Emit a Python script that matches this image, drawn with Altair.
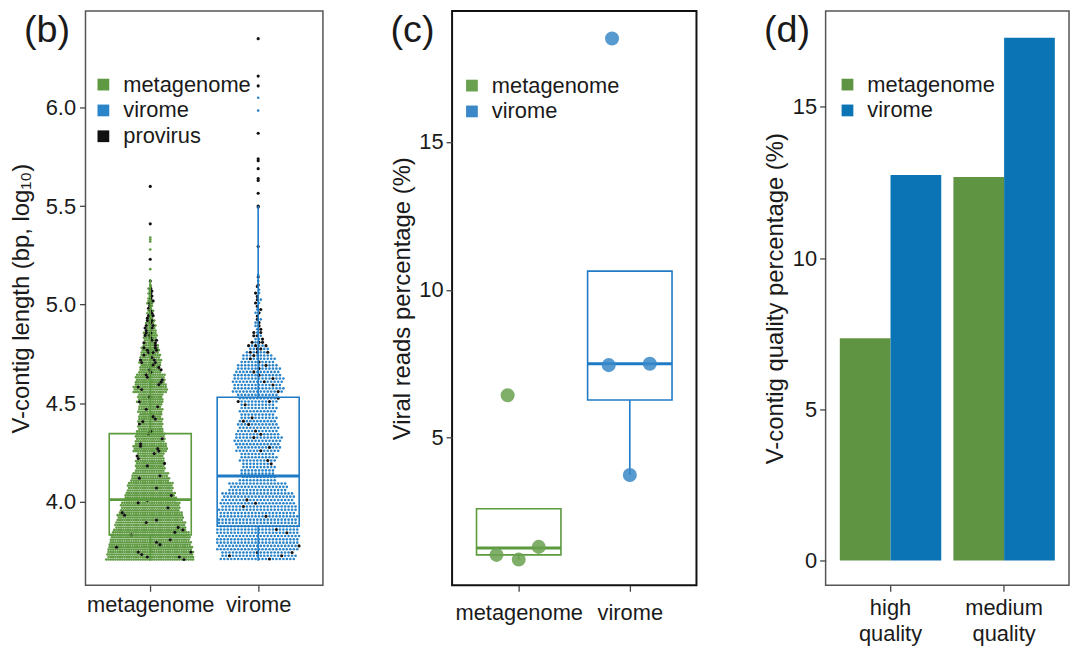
import altair as alt
import pandas as pd

# ---------------- data ----------------
GROUPS = ["metagenome", "virome"]
TYPES = ["metagenome", "virome", "provirus"]

# Panel (b): log10 V-contig length, counts per 0.05-wide bin
B_BIN_LO = [3.70, 3.75, 3.80, 3.85, 3.90, 3.95, 4.00, 4.05, 4.10, 4.15, 4.20, 4.25, 4.30, 4.35,
            4.40, 4.45, 4.50, 4.55, 4.60, 4.65, 4.70, 4.75, 4.80, 4.85, 4.90, 4.95, 5.00, 5.05]
B_META_COUNT = [153, 146, 139, 125, 115, 104, 90, 80, 66, 52, 49, 59, 52, 45,
                42, 42, 45, 59, 52, 38, 38, 31, 24, 21, 14, 10, 10, 7]
B_META_PROV = [6, 3, 3, 3, 3, 2, 2, 1, 2, 2, 3, 4, 2, 2,
               3, 2, 2, 3, 4, 5, 6, 7, 7, 7, 6, 4, 4, 3]
B_VIR_COUNT = [65, 72, 72, 70, 68, 67, 63, 51, 31, 29, 32, 39, 41, 36,
               32, 32, 36, 44, 44, 38, 29, 19, 10, 7, 5, 5, 5, 4]
B_VIR_PROV = [5, 1, 1, 1, 1, 2, 1, 0, 0, 1, 1, 2, 2, 2,
              2, 1, 3, 2, 3, 3, 3, 8, 6, 4, 3, 3, 3, 2]
# isolated long contigs
B_META_HIGH = [5.10, 5.12, 5.18, 5.23, 5.28, 5.32, 5.33, 5.34, 5.41, 5.60]
B_META_HIGH_TYPE = ["metagenome", "provirus", "metagenome", "provirus", "metagenome",
                    "metagenome", "metagenome", "metagenome", "provirus", "provirus"]
B_VIR_HIGH = [5.10, 5.12, 5.14, 5.15, 5.295, 5.495, 5.50, 5.565, 5.63, 5.64,
              5.69, 5.73, 5.74, 5.87, 5.985, 6.05, 6.11, 6.16, 6.35]
B_VIR_HIGH_TYPE = ["provirus", "virome", "provirus", "virome", "provirus", "provirus",
                   "provirus", "provirus", "provirus", "provirus", "provirus", "provirus",
                   "provirus", "provirus", "virome", "virome", "provirus", "provirus", "provirus"]
# box statistics (b)
B_Q1 = [3.83, 3.875]
B_MED = [4.01, 4.13]
B_Q3 = [4.345, 4.53]
B_LO = [3.70, 3.70]
B_HI = [5.13, 5.50]

# Panel (c): viral reads percentage per sample
C_META = [6.43, 1.03, 0.87, 1.30]
C_META_JIT = [-0.10, -0.20, 0.0, 0.18]
C_VIR = [18.5, 7.45, 7.50, 3.73]
C_VIR_JIT = [-0.16, -0.19, 0.18, 0.0]
C_Q1 = [1.03, 6.27]
C_MED = [1.26, 7.50]
C_Q3 = [2.59, 10.63]
C_LO = [0.87, 3.73]

# Panel (d): V-contig quality percentage
D_QUALITY = ["high quality", "medium quality"]
D_META = [7.35, 12.68]
D_VIR = [12.75, 17.29]

# ---------------- styling / layout ----------------
FONT = "Liberation Sans"
GREEN_PT, BLUE_PT, BLACK = "#5f9a42", "#2a84c9", "#111111"
BOX_COLORS = ["#5c9a3e", "#1f7bc6"]
GREEN_C, BLUE_C = "#6aa150", "#3a88c8"
GREEN_D, BLUE_D = "#5f9443", "#0a74b5"
TXT = "#1a1a1a"

W_B, W_C, W_D, H = 239, 246, 245, 578
XDOM = [0.4, 2.6]
UNIT_PX_B = W_B / (XDOM[1] - XDOM[0])
BOX_HALF = 0.38
LBL = "['metagenome','virome'][datum.value - 1]"


def swarm(center, bins, counts, prov, rows, dx, bin_h, base):
    out = []
    for b, (lo, n, k) in enumerate(zip(bins, counts, prov)):
        slots = []
        for r in range(rows):
            m = n // rows + (1 if r < n % rows else 0)
            y = lo + (r + 0.5) * bin_h / rows
            stag = (0.25 if r % 2 else -0.25) * dx
            for c in range(m):
                slots.append((center + (c - (m - 1) / 2) * dx + stag, y))
        black = set()
        for j in range(k):
            black.add(int(((j * 0.6180339887 + 0.37 + 0.291 * b) % 1.0) * len(slots)))
        for i, (x, y) in enumerate(slots):
            out.append({"x": x, "y": y, "type": "provirus" if i in black else base})
    return out


rows_b = swarm(1, B_BIN_LO, B_META_COUNT, B_META_PROV, 4, 2.3 / UNIT_PX_B, 0.05, "metagenome")
rows_b += swarm(2, B_BIN_LO, B_VIR_COUNT, B_VIR_PROV, 3, 3.5 / UNIT_PX_B, 0.05, "virome")
for v, t in zip(B_META_HIGH, B_META_HIGH_TYPE):
    rows_b.append({"x": 1, "y": v, "type": t})
for v, t in zip(B_VIR_HIGH, B_VIR_HIGH_TYPE):
    rows_b.append({"x": 2, "y": v, "type": t})
df_b = pd.DataFrame(rows_b)
df_b_col = df_b[df_b["type"] != "provirus"]
df_b_blk = df_b[df_b["type"] == "provirus"]


def box_frame(q1, med, q3, lo, hi):
    d = pd.DataFrame({"boxgroup": GROUPS, "pos": [1, 2], "q1": q1, "med": med,
                      "q3": q3, "lo": lo, "hi": hi})
    d["xl"] = d["pos"] - BOX_HALF
    d["xr"] = d["pos"] + BOX_HALF
    return d


box_b = box_frame(B_Q1, B_MED, B_Q3, B_LO, B_HI)
box_c = box_frame(C_Q1, C_MED, C_Q3, C_LO, C_Q3)


def legend(x, y):
    return alt.Legend(title=None, orient="none", legendX=x, legendY=y, symbolType="square",
                      symbolSize=140, labelFontSize=22, rowPadding=4, labelOffset=9,
                      padding=0, symbolStrokeWidth=0, symbolOpacity=1)


def box_layers(df, xs, ys, axx, axy):
    X = lambda f: alt.X(f, scale=xs, axis=axx)
    Y = lambda f: alt.Y(f, scale=ys, axis=axy)
    layers = []
    for i, col in enumerate(BOX_COLORS):
        base = alt.Chart(df.iloc[[i]])
        s = alt.value(col)
        layers += [
            base.mark_rect(fillOpacity=0, strokeWidth=1.6).encode(
                x=X("xl:Q"), x2="xr:Q", y=Y("q1:Q"), y2="q3:Q", stroke=s),
            base.mark_rule(strokeWidth=3).encode(
                x=X("xl:Q"), x2="xr:Q", y=Y("med:Q"), stroke=s),
            base.mark_rule(strokeWidth=1.6).encode(
                x=X("pos:Q"), y=Y("lo:Q"), y2="q1:Q", stroke=s),
            base.mark_rule(strokeWidth=1.6).encode(
                x=X("pos:Q"), y=Y("q3:Q"), y2="hi:Q", stroke=s),
        ]
    return layers


def panel_label(t):
    return alt.Chart(pd.DataFrame({"t": [t]})).mark_text(
        fontSize=38, align="left", baseline="middle", font=FONT, color=TXT
    ).encode(text="t:N", x=alt.value(-62), y=alt.value(20))


# ---------------- panel (b) ----------------
xs_b = alt.Scale(domain=XDOM, nice=False, zero=False)
ys_b = alt.Scale(domain=[3.575, 6.49], nice=False, zero=False)
axx_b = alt.Axis(values=[1, 2], labelExpr=LBL, title=None, labelPadding=3)
axy_b = alt.Axis(values=[4.0, 4.5, 5.0, 5.5, 6.0], format=".1f",
                 title="V-contig length  (bp, log₁₀)", titlePadding=12, labelPadding=4)
color_b = alt.Color("type:N", scale=alt.Scale(domain=TYPES, range=[GREEN_PT, BLUE_PT, BLACK]),
                    legend=legend(7, 63))

pts_col = alt.Chart(df_b_col).mark_circle(size=7, opacity=1).encode(
    x=alt.X("x:Q", scale=xs_b, axis=axx_b), y=alt.Y("y:Q", scale=ys_b, axis=axy_b), color=color_b)
pts_blk = alt.Chart(df_b_blk).mark_circle(size=10, opacity=1).encode(
    x=alt.X("x:Q", scale=xs_b, axis=axx_b), y=alt.Y("y:Q", scale=ys_b, axis=axy_b), color=color_b)

panel_b = alt.layer(pts_col, pts_blk, *box_layers(box_b, xs_b, ys_b, axx_b, axy_b),
                    panel_label("(b)")).properties(
    width=W_B, height=H, view=alt.ViewBackground(stroke="#555555", strokeWidth=1.5))

# ---------------- panel (c) ----------------
df_c = pd.DataFrame({
    "group": ["metagenome"] * len(C_META) + ["virome"] * len(C_VIR),
    "pos": [1] * len(C_META) + [2] * len(C_VIR),
    "jit": C_META_JIT + C_VIR_JIT,
    "value": C_META + C_VIR,
})
df_c["x"] = df_c["pos"] + df_c["jit"]
xs_c = alt.Scale(domain=XDOM, nice=False, zero=False)
ys_c = alt.Scale(domain=[0, 19.43], nice=False, zero=False)
axx_c = alt.Axis(values=[1, 2], labelExpr=LBL, title=None, labelPadding=11)
axy_c = alt.Axis(values=[5, 10, 15], title="Viral reads percentage (%)", titlePadding=4,
                 labelPadding=3)
pts_c = alt.Chart(df_c).mark_circle(size=200, opacity=0.85).encode(
    x=alt.X("x:Q", scale=xs_c, axis=axx_c),
    y=alt.Y("value:Q", scale=ys_c, axis=axy_c),
    color=alt.Color("group:N", scale=alt.Scale(domain=GROUPS, range=[GREEN_C, BLUE_C]),
                    legend=legend(9, 64)),
)
panel_c = alt.layer(*box_layers(box_c, xs_c, ys_c, axx_c, axy_c), pts_c,
                    panel_label("(c)")).properties(
    width=W_C, height=H, view=alt.ViewBackground(stroke="#111111", strokeWidth=2))

# ---------------- panel (d) ----------------
df_d = pd.DataFrame({
    "quality": D_QUALITY * 2,
    "group": ["metagenome"] * 2 + ["virome"] * 2,
    "value": D_META + D_VIR,
})
bars = alt.Chart(df_d).mark_bar().encode(
    x=alt.X("quality:N", sort=D_QUALITY,
            scale=alt.Scale(paddingInner=0.107, paddingOuter=0.125),
            axis=alt.Axis(labelExpr="split(datum.label, ' ')", labelAngle=0, title=None,
                          labelPadding=6, labelLineHeight=27)),
    xOffset=alt.XOffset("group:N", sort=GROUPS, scale=alt.Scale(paddingInner=0, paddingOuter=0)),
    y=alt.Y("value:Q", scale=alt.Scale(domain=[-0.82, 18.17], nice=False, zero=False),
            axis=alt.Axis(values=[0, 5, 10, 15], title="V-contig quality percentage (%)",
                          titlePadding=5, labelPadding=3)),
    y2=alt.datum(0),
    color=alt.Color("group:N", scale=alt.Scale(domain=GROUPS, range=[GREEN_D, BLUE_D]),
                    legend=legend(11, 63)),
)
panel_d = alt.layer(bars, panel_label("(d)")).properties(
    width=W_D, height=H, view=alt.ViewBackground(stroke="#555555", strokeWidth=1.5))

# ---------------- assemble ----------------
chart = alt.hconcat(panel_b, panel_c, panel_d, spacing=130, bounds="flush").resolve_scale(
    color="independent"
).resolve_legend(color="independent").properties(
    padding={"left": 0, "top": 0, "right": 2, "bottom": 0}
).configure(font=FONT).configure_axis(
    labelFont=FONT, titleFont=FONT, labelFontSize=22, titleFontSize=24,
    titleFontWeight="normal", labelColor=TXT, titleColor=TXT, tickColor="#444444",
    tickWidth=1.3, tickSize=6, domain=False, grid=False,
).configure_legend(labelFont=FONT, labelColor=TXT).configure_view(stroke="#555555")

chart.save("out.html", embed_options={"renderer": "svg", "actions": False})
